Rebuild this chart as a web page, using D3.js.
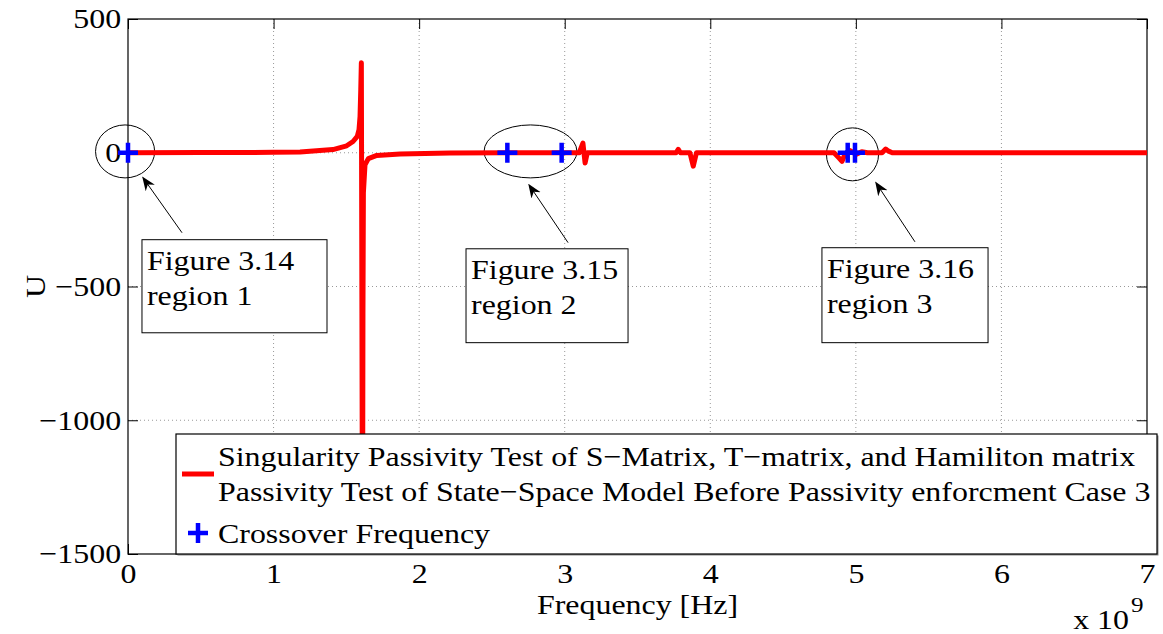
<!DOCTYPE html>
<html>
<head>
<meta charset="utf-8">
<script src="https://cdn.jsdelivr.net/npm/d3@7"></script>
<style>
body { margin: 0; background: #fff; }
text { font-family: "Liberation Serif", "Times New Roman", serif; fill: #000; }
</style>
</head>
<body>
<div id="plot"></div>
<script>
// frequency in units of 1e9 Hz, U values
const freq = [0, 0.5, 1.0, 1.182, 1.408, 1.502, 1.546, 1.575, 1.587, 1.594, 1.599, 1.603,
  1.611, 1.614, 1.617, 1.628, 1.651, 1.709, 1.869, 2.212, 2.6, 3.0, 3.10, 3.125, 3.14, 3.155,
  3.3, 3.72, 3.765, 3.78, 3.795, 3.86, 3.883, 3.905, 4.2, 4.85, 4.885, 4.905, 4.925, 4.96,
  5.0, 5.04, 5.08, 5.18, 5.205, 5.225, 5.25, 5.6, 6.3, 7.0];
const uval = [0, 0.5, 1.5, 3, 12, 26, 42, 61, 86, 136, 236, 336,
  -1600, -600, -150, -45, -22, -10, -5, -1, 0, 0, 0, 36, -38, 0,
  0, 0, 0, 13, 0, 0, -50, 0, 0, 0, -20, -32, -5, 8,
  -6, 4, 0, 0, 14, 6, 0, 0, 0, 0];
const crossFreq = [0, 2.606, 2.979, 4.944, 4.994];
const crossU = [0, 0, 0, 0, 0];
const xTicks = [0, 1, 2, 3, 4, 5, 6, 7];
const yTicks = [-1500, -1000, -500, 0, 500];
const legendLines = [
  "Singularity Passivity Test of S\u2212Matrix, T\u2212matrix, and Hamiliton matrix",
  "Passivity Test of State\u2212Space Model Before Passivity enforcment Case 3",
  "Crossover Frequency"
];
const noteText = [["Figure 3.14", "region 1"], ["Figure 3.15", "region 2"], ["Figure 3.16", "region 3"]];
// annotation anchors in data units
const ellipseF = [-0.02, 2.765, 4.977];
const ellipseU = [5, 5, -6];
const ellipseRF = [0.203, 0.319, 0.179];
const ellipseRU = [99, 99, 99];
const arrowFrom = [[0.371, -299], [3.023, -336], [5.406, -333]];
const arrowTo = [[0.103, -93], [2.755, -120], [5.138, -112]];
const boxF = [[0.096, 1.367], [2.322, 3.435], [4.767, 5.908]];
const boxU = [[-325, -673], [-359, -710], [-355, -710]];

const margin = {top: 19, right: 16, bottom: 80, left: 128},
  W = 1163, H = 634,
  width = W - margin.left - margin.right,
  height = H - margin.top - margin.bottom;
const fs = 28, sx = 1.14;

const svg = d3.select("#plot").append("svg")
  .attr("width", W).attr("height", H);

svg.append("defs").append("clipPath").attr("id", "clip")
  .append("rect").attr("width", width).attr("height", height);
const mk = svg.select("defs").append("marker")
  .attr("id", "arrow").attr("viewBox", "0 0 10 10")
  .attr("refX", 9).attr("refY", 5)
  .attr("markerWidth", 14).attr("markerHeight", 14)
  .attr("markerUnits", "userSpaceOnUse")
  .attr("orient", "auto");
mk.append("path").attr("d", "M0,1 L10,5 L0,9 L3,5 Z").attr("fill", "#000");

const g = svg.append("g").attr("transform", `translate(${margin.left},${margin.top})`);

const x = d3.scaleLinear().domain([0, 7]).range([0, width]);
const y = d3.scaleLinear().domain([-1500, 500]).range([height, 0]);

// stretched text helper
function label(parent, px, py, str, anchor, rot) {
  return parent.append("text")
    .attr("transform", `translate(${px},${py})` + (rot ? ` rotate(${rot})` : "") + ` scale(${sx},1)`)
    .attr("text-anchor", anchor || "start")
    .style("font-size", fs + "px")
    .text(str);
}

// grid
g.append("g").selectAll("line").data(xTicks.slice(1, -1)).join("line")
  .attr("x1", d => x(d)).attr("x2", d => x(d)).attr("y1", 0).attr("y2", height)
  .attr("stroke", "#999").attr("stroke-dasharray", "1,3");
g.append("g").selectAll("line").data(yTicks.slice(1, -1)).join("line")
  .attr("y1", d => y(d)).attr("y2", d => y(d)).attr("x1", 0).attr("x2", width)
  .attr("stroke", "#999").attr("stroke-dasharray", "1,3");

// axes with inside ticks
const xAxis = g.append("g").attr("transform", `translate(0,${height})`)
  .call(d3.axisBottom(x).tickValues(xTicks).tickFormat(d3.format("d")).tickSize(-10).tickPadding(9));
const yAxis = g.append("g")
  .call(d3.axisLeft(y).tickValues(yTicks).tickFormat(d3.format("d")).tickSize(-10).tickPadding(6));
g.append("g").call(d3.axisTop(x).tickValues(xTicks).tickSize(-10).tickFormat(""));
g.append("g").attr("transform", `translate(${width},0)`)
  .call(d3.axisRight(y).tickValues(yTicks).tickSize(-10).tickFormat(""));
g.selectAll(".domain").remove();
g.selectAll(".tick line").attr("stroke", "#000");
[xAxis, yAxis].forEach(a => a.selectAll("text")
  .style("font-size", fs + "px")
  .style("font-family", '"Liberation Serif", serif')
  .attr("transform", `scale(${sx},1)`));

g.append("rect").attr("width", width).attr("height", height)
  .attr("fill", "none").attr("stroke", "#000").attr("stroke-width", 1.2);

// annotations: ellipses, arrows, boxes
const notes = g.append("g");
ellipseF.forEach((f, i) => {
  notes.append("ellipse")
    .attr("cx", x(f)).attr("cy", y(ellipseU[i]))
    .attr("rx", x(ellipseRF[i]) - x(0)).attr("ry", y(0) - y(ellipseRU[i]))
    .attr("fill", "none").attr("stroke", "#000").attr("stroke-width", 1);
});

// curve
const pts = freq.map((f, i) => [f, uval[i]]);
g.append("path").datum(pts)
  .attr("clip-path", "url(#clip)")
  .attr("fill", "none").attr("stroke", "#ff0000").attr("stroke-width", 5)
  .attr("stroke-linejoin", "round").attr("stroke-linecap", "round")
  .attr("d", d3.line().x(d => x(d[0])).y(d => y(d[1])));

// crossover markers
const plus = "M-10,0H10M0,-10V10";
g.append("g").selectAll("path").data(crossFreq).join("path")
  .attr("transform", (d, i) => `translate(${x(d)},${y(crossU[i])})`)
  .attr("d", plus).attr("stroke", "#0000ff").attr("stroke-width", 4.5).attr("fill", "none");

arrowFrom.forEach((a, i) => {
  notes.append("line")
    .attr("x1", x(a[0])).attr("y1", y(a[1]))
    .attr("x2", x(arrowTo[i][0])).attr("y2", y(arrowTo[i][1]))
    .attr("stroke", "#000").attr("stroke-width", 1)
    .attr("marker-end", "url(#arrow)");
});
boxF.forEach((b, i) => {
  const bx = x(b[0]), by = y(boxU[i][0]);
  g.append("rect").attr("x", bx).attr("y", by)
    .attr("width", x(b[1]) - bx).attr("height", y(boxU[i][1]) - by)
    .attr("fill", "#fff").attr("stroke", "#000").attr("stroke-width", 1);
  label(g, bx + 5, by + 30, noteText[i][0]);
  label(g, bx + 5, by + 65, noteText[i][1]);
});

// legend
const lg = svg.append("g").attr("transform", "translate(176,434)");
lg.append("rect").attr("x", 1.5).attr("y", 1.5).attr("width", 981).attr("height", 120)
  .attr("fill", "#888");
lg.append("rect").attr("width", 981).attr("height", 120)
  .attr("fill", "#fff").attr("stroke", "#000").attr("stroke-width", 1.2);
lg.append("line").attr("x1", 6).attr("x2", 38).attr("y1", 40).attr("y2", 40)
  .attr("stroke", "#ff0000").attr("stroke-width", 5);
lg.append("path").attr("transform", "translate(22,99)").attr("d", plus)
  .attr("stroke", "#0000ff").attr("stroke-width", 4.5);
label(lg, 42, 32, legendLines[0]);
label(lg, 42, 67, legendLines[1]);
label(lg, 42, 109, legendLines[2]);

// axis titles
label(svg, margin.left + width / 2, 614, "Frequency [Hz]", "middle");
label(svg, 45, margin.top + height / 2, "U", "middle", -90);
label(svg, 1129, 629, "x 10", "end");
label(svg, 1131, 612, "9", "start").style("font-size", "22px");
</script>
</body>
</html>
